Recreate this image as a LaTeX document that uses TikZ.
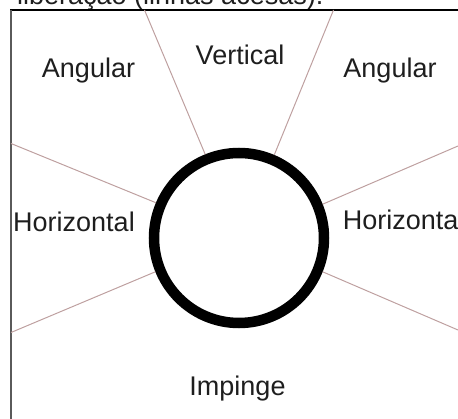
\documentclass[tikz,border=0pt]{standalone}
\usepackage{fontspec}
\setmainfont{Liberation Sans}
\definecolor{spokecol}{RGB}{190,160,160}
\definecolor{txtcol}{RGB}{30,30,30}
\definecolor{framegray}{RGB}{90,90,90}
\begin{document}
\begin{tikzpicture}[x=1pt,y=-1pt,
  lbl/.style={inner sep=0pt,anchor=base,text=txtcol,font=\fontsize{27}{30}\selectfont},
  spoke/.style={draw=spokecol,line width=1pt},
  ring/.style={circle,draw=black,line width=10.5pt,minimum size=170pt,inner sep=0pt}]
\useasboundingbox (0,0) rectangle (458,419);
% caption remnant above the frame
\node[lbl,anchor=base west] (cap) at (17,5) {liberação (linhas acesas).};
% frame
\coordinate (ftl) at (10,10);
\coordinate (ftr) at (458,10);
\coordinate (flt) at (11,10);
\coordinate (flb) at (11,419);
\draw[line width=1.6pt,black] (ftl) -- (ftr);
\draw[line width=1.2pt,framegray] (flt) -- (flb);
% ring
\node[ring] (c) at (239,238) {};
% spoke ends
\coordinate (e1) at (144.5,10);
\coordinate (e2) at (333.5,10);
\coordinate (e3) at (11,143.5);
\coordinate (e4) at (11,332.5);
\coordinate (e5) at (458,146);
\coordinate (e6) at (458,330);
\draw[spoke] (c.112.5) -- (e1);
\draw[spoke] (c.67.5) -- (e2);
\draw[spoke] (c.157.5) -- (e3);
\draw[spoke] (c.202.5) -- (e4);
\draw[spoke] (c.22.5) -- (e5);
\draw[spoke] (c.-22.5) -- (e6);
% labels
\node[lbl] (vert) at (240,65) {Vertical};
\node[lbl] (angl) at (88.5,78) {Angular};
\node[lbl] (angr) at (390,78) {Angular};
\node[lbl] (horl) at (74,231.5) {Horizontal};
\node[lbl,anchor=base west] (horr) at (342.7,230) {Horizonta};
\node[lbl] (imp) at (237.5,395.5) {Impinge};
\end{tikzpicture}
\end{document}
